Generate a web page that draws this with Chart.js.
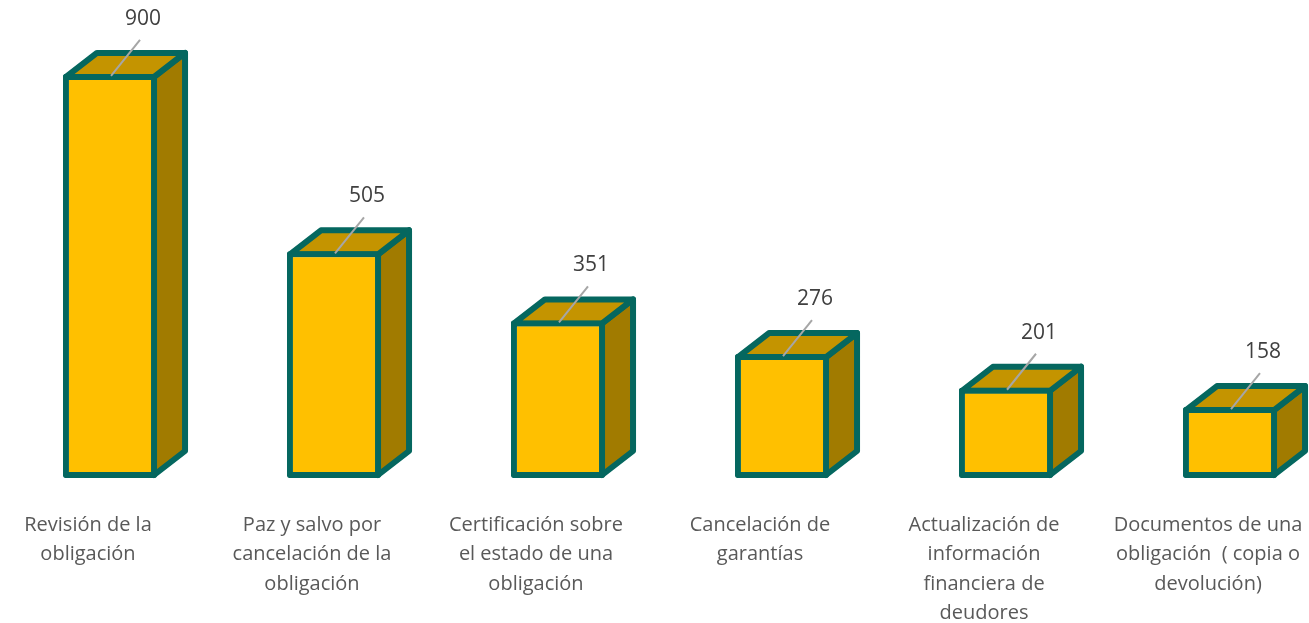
<!DOCTYPE html>
<html>
<head>
<meta charset="utf-8">
<script src="https://cdn.jsdelivr.net/npm/chart.js@4.4.1/dist/chart.umd.min.js"></script>
<style>
  html, body { margin: 0; padding: 0; background: #fff; overflow: hidden; }
  #wrap { position: absolute; left: -2px; top: 0; width: 1344px; height: 623px; }
</style>
</head>
<body>
<div id="wrap"><canvas id="chart"></canvas></div>
<script>
const categories = [
  ['Revisión de la', 'obligación'],
  ['Paz y salvo por', 'cancelación de la', 'obligación'],
  ['Certificación sobre', 'el estado de una', 'obligación'],
  ['Cancelación de', 'garantías'],
  ['Actualización de', 'información', 'financiera de', 'deudores'],
  ['Documentos de una', 'obligación  ( copia o', 'devolución)']
];
const values = [900, 505, 351, 276, 201, 158];

const FRONT = '#FFC000';
const TOP = '#C49400';
const SIDE = '#A17B00';
const EDGE = '#05675F';
const BW = 6;
const DX = 31, DY = 24;

// top + side faces, drawn before chart.js paints the front face
const boxFaces = {
  id: 'boxFaces',
  beforeDatasetsDraw(chart) {
    const ctx = chart.ctx;
    const h = BW / 2;
    chart.getDatasetMeta(0).data.forEach(bar => {
      const x0 = bar.x - bar.width / 2 + h;
      const x1 = bar.x + bar.width / 2 - h;
      const yt = bar.y + h;
      const yb = bar.base - h;
      ctx.save();
      ctx.lineWidth = BW;
      ctx.lineJoin = 'round';
      ctx.strokeStyle = EDGE;
      // side
      ctx.beginPath();
      ctx.moveTo(x1, yt);
      ctx.lineTo(x1 + DX, yt - DY);
      ctx.lineTo(x1 + DX, yb - DY);
      ctx.lineTo(x1, yb);
      ctx.closePath();
      ctx.fillStyle = SIDE;
      ctx.fill();
      ctx.stroke();
      // top
      ctx.beginPath();
      ctx.moveTo(x0, yt);
      ctx.lineTo(x0 + DX, yt - DY);
      ctx.lineTo(x1 + DX, yt - DY);
      ctx.lineTo(x1, yt);
      ctx.closePath();
      ctx.fillStyle = TOP;
      ctx.fill();
      ctx.stroke();
      ctx.restore();
    });
  },
  // value labels with small leader lines
  afterDatasetsDraw(chart) {
    const ctx = chart.ctx;
    const ds = chart.data.datasets[0];
    chart.getDatasetMeta(0).data.forEach((bar, i) => {
      ctx.save();
      ctx.strokeStyle = '#A6A6A6';
      ctx.lineWidth = 2;
      ctx.beginPath();
      ctx.moveTo(bar.x + 1, bar.y + 2);
      ctx.lineTo(bar.x + 30, bar.y - 34);
      ctx.stroke();
      ctx.fillStyle = '#404040';
      ctx.font = '21px "Open Sans"';
      ctx.textAlign = 'center';
      ctx.textBaseline = 'middle';
      ctx.fillText(String(ds.data[i]), bar.x + 33, bar.y - 55);
      ctx.restore();
    });
  }
};

new Chart(document.getElementById('chart'), {
  type: 'bar',
  data: {
    labels: categories,
    datasets: [{
      data: values,
      backgroundColor: FRONT,
      borderColor: EDGE,
      borderWidth: BW,
      borderRadius: 2,
      borderSkipped: false,
      categoryPercentage: 1,
      barPercentage: 0.42
    }]
  },
  options: {
    responsive: true,
    maintainAspectRatio: false,
    animation: false,
    layout: { padding: { top: 29, left: 0, right: 0, bottom: 0 } },
    plugins: { legend: { display: false }, tooltip: { enabled: false } },
    scales: {
      y: { display: false, min: 0, max: 1000 },
      x: {
        grid: { display: false, drawTicks: false },
        border: { display: false },
        afterFit: s => {
          s.height = 145;
          s.paddingLeft = 0;
          s.paddingRight = 0;
        },
        ticks: {
          color: '#595959',
          font: { family: 'Open Sans', size: 20, lineHeight: 1.48 },
          padding: 32,
          labelOffset: -22,
          maxRotation: 0,
          autoSkip: false
        }
      }
    }
  },
  plugins: [boxFaces]
});
</script>
</body>
</html>
